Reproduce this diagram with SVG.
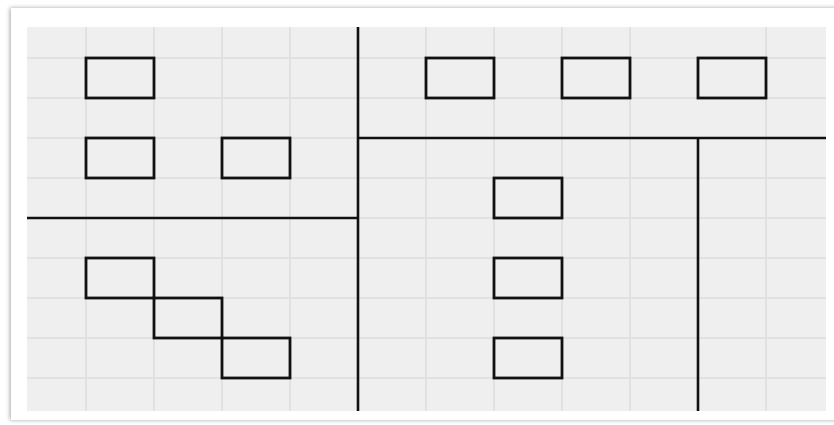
<svg xmlns="http://www.w3.org/2000/svg" width="834" height="425" viewBox="0 0 834 425">
  <style>
    .grid line { stroke: #dcdcdc; stroke-width: 1.5; }
    .box { fill: none; stroke: #111; stroke-width: 2.8; }
    .div { stroke: #111; stroke-width: 2.6; }
  </style>
  <defs>
    <filter id="sh" x="-5%" y="-5%" width="110%" height="110%">
      <feDropShadow dx="-1" dy="0" stdDeviation="2" flood-color="#000" flood-opacity="0.35"/>
    </filter>
  </defs>
  <rect x="0" y="0" width="834" height="425" fill="#ffffff"/>
  <rect x="11" y="8" width="840" height="412" fill="#ffffff" filter="url(#sh)"/>
  <rect x="27" y="27" width="799" height="384" fill="#efefef"/>
  <g class="grid">
    <line x1="86" y1="27" x2="86" y2="411"/>
    <line x1="154" y1="27" x2="154" y2="411"/>
    <line x1="222" y1="27" x2="222" y2="411"/>
    <line x1="290" y1="27" x2="290" y2="411"/>
    <line x1="426" y1="27" x2="426" y2="411"/>
    <line x1="494" y1="27" x2="494" y2="411"/>
    <line x1="562" y1="27" x2="562" y2="411"/>
    <line x1="630" y1="27" x2="630" y2="411"/>
    <line x1="766" y1="27" x2="766" y2="411"/>
    <line x1="27" y1="58" x2="826" y2="58"/>
    <line x1="27" y1="98" x2="826" y2="98"/>
    <line x1="27" y1="138" x2="826" y2="138"/>
    <line x1="27" y1="178" x2="826" y2="178"/>
    <line x1="27" y1="218" x2="826" y2="218"/>
    <line x1="27" y1="258" x2="826" y2="258"/>
    <line x1="27" y1="298" x2="826" y2="298"/>
    <line x1="27" y1="338" x2="826" y2="338"/>
    <line x1="27" y1="378" x2="826" y2="378"/>
  </g>
  <g id="dividers">
    <line class="div" x1="358" y1="27" x2="358" y2="411"/>
    <line class="div" x1="27" y1="218" x2="358" y2="218"/>
    <line class="div" x1="358" y1="138" x2="826" y2="138"/>
    <line class="div" x1="698" y1="138" x2="698" y2="411"/>
  </g>
  <g id="b1"><rect class="box" x="86" y="58" width="68" height="40"/></g>
  <g id="b2"><rect class="box" x="426" y="58" width="68" height="40"/></g>
  <g id="b3"><rect class="box" x="562" y="58" width="68" height="40"/></g>
  <g id="b4"><rect class="box" x="698" y="58" width="68" height="40"/></g>
  <g id="b5"><rect class="box" x="86" y="138" width="68" height="40"/></g>
  <g id="b6"><rect class="box" x="222" y="138" width="68" height="40"/></g>
  <g id="b7"><rect class="box" x="494" y="178" width="68" height="40"/></g>
  <g id="b8"><rect class="box" x="494" y="258" width="68" height="40"/></g>
  <g id="b9"><rect class="box" x="494" y="338" width="68" height="40"/></g>
  <g id="b10"><rect class="box" x="86" y="258" width="68" height="40"/></g>
  <g id="b11"><rect class="box" x="154" y="298" width="68" height="40"/></g>
  <g id="b12"><rect class="box" x="222" y="338" width="68" height="40"/></g>
</svg>
